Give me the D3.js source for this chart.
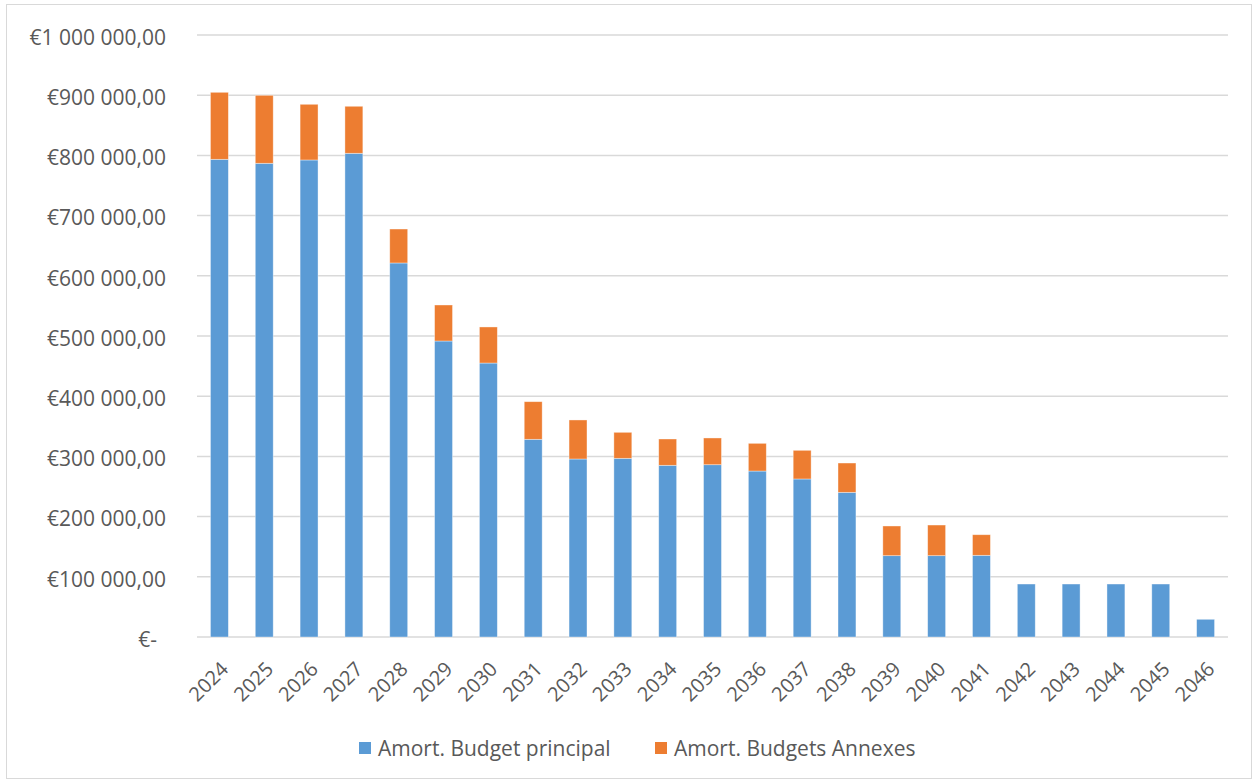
<!DOCTYPE html>
<html>
<head>
<meta charset="utf-8">
<script src="https://cdn.jsdelivr.net/npm/d3@7"></script>
<style>
  html, body { margin: 0; padding: 0; background: #fff; }
  svg { display: block; }
  text { font-family: "Open Sans", "Noto Sans", sans-serif; fill: #595959; }
</style>
</head>
<body>
<svg id="chart" width="1253" height="780"></svg>
<script>
// Loan repayment schedule per year (euros)
const years = ["2024","2025","2026","2027","2028","2029","2030","2031","2032","2033","2034","2035",
               "2036","2037","2038","2039","2040","2041","2042","2043","2044","2045","2046"];
const budgetPrincipal = [793500, 786900, 792400, 803500, 621300, 491700, 455100, 328400, 295700, 296800,
                         285200, 286200, 275700, 262500, 240300, 135100, 135100, 135700, 88000, 88000,
                         88000, 88000, 29400];
const budgetsAnnexes = [111300, 112900, 92500, 78100, 56400, 59800, 59900, 62500, 64800, 43200,
                        43700, 44400, 46000, 47600, 48700, 49300, 50900, 34200, 0, 0, 0, 0, 0];
const seriesNames = ["Amort. Budget principal", "Amort. Budgets Annexes"];
const seriesColors = ["#5B9BD5", "#ED7D31"];
const yTicks = [0, 100000, 200000, 300000, 400000, 500000, 600000, 700000, 800000, 900000, 1000000];

const svg = d3.select("#chart");

// outer chart frame
svg.append("rect")
  .attr("x", 6.5).attr("y", 4.5).attr("width", 1245).attr("height", 774)
  .attr("fill", "none").attr("stroke", "#d9d9d9").attr("stroke-width", 1);

const plotLeft = 197, plotRight = 1228, plotTop = 35, plotBottom = 637;

const x = d3.scaleBand().domain(years).range([plotLeft, plotRight]).paddingInner(0.6).paddingOuter(0.3);
const y = d3.scaleLinear().domain([0, 1000000]).range([plotBottom, plotTop]);

// format like "€900 000,00"
const fmt = v => {
  if (v === 0) return "€-";
  const s = String(Math.round(v)).replace(/\B(?=(\d{3})+(?!\d))/g, " ");
  return "€" + s + ",00";
};

// gridlines
svg.append("g")
  .selectAll("line")
  .data(yTicks)
  .join("line")
  .attr("x1", plotLeft).attr("x2", plotRight)
  .attr("y1", d => y(d)).attr("y2", d => y(d))
  .attr("stroke", "#d9d9d9").attr("stroke-width", 1.5);

// y axis labels
const yAxis = svg.append("g")
  .attr("transform", `translate(${plotLeft - 31},2.5)`)
  .call(d3.axisLeft(y).tickValues(yTicks).tickFormat(fmt).tickSize(0).tickPadding(0));
yAxis.select(".domain").remove();
yAxis.selectAll("text")
  .attr("font-size", "21px")
  .attr("fill", "#595959")
  .attr("font-family", "'Open Sans', sans-serif")
  .attr("dx", d => d === 0 ? -9 : 0);

// stacked bars
const stackData = years.map((yr, i) => ({ year: yr, principal: budgetPrincipal[i], annexes: budgetsAnnexes[i] }));
const stacked = d3.stack().keys(["principal", "annexes"])(stackData);

svg.append("g")
  .selectAll("g")
  .data(stacked)
  .join("g")
  .attr("fill", (d, i) => seriesColors[i])
  .selectAll("rect")
  .data(d => d.filter(p => p[1] - p[0] > 0))
  .join("rect")
  .attr("x", d => x(d.data.year))
  .attr("width", x.bandwidth())
  .attr("y", d => y(d[1]))
  .attr("height", d => y(d[0]) - y(d[1]))
  .attr("stroke", "rgba(255,255,255,0.5)")
  .attr("stroke-width", 0.75);

// x axis labels, rotated
const xAxis = svg.append("g")
  .attr("transform", `translate(0,${plotBottom})`)
  .call(d3.axisBottom(x).tickSize(0).tickPadding(0));
xAxis.select(".domain").remove();
xAxis.selectAll("text")
  .attr("font-size", "20px")
  .attr("fill", "#595959")
  .attr("font-family", "'Open Sans', sans-serif")
  .attr("text-anchor", "end")
  .attr("dy", null)
  .attr("y", 0)
  .attr("transform", "translate(5,28) rotate(-45)")
  .attr("dominant-baseline", "central");

// legend
const legendItems = [
  { name: seriesNames[0], color: seriesColors[0], x: 359 },
  { name: seriesNames[1], color: seriesColors[1], x: 655 }
];
const lg = svg.append("g").selectAll("g").data(legendItems).join("g")
  .attr("transform", d => `translate(${d.x},742)`);
lg.append("rect").attr("width", 12).attr("height", 12).attr("fill", d => d.color);
lg.append("text")
  .attr("x", 19).attr("y", 6)
  .attr("dominant-baseline", "central")
  .attr("font-size", "21px")
  .text(d => d.name);
</script>
</body>
</html>
